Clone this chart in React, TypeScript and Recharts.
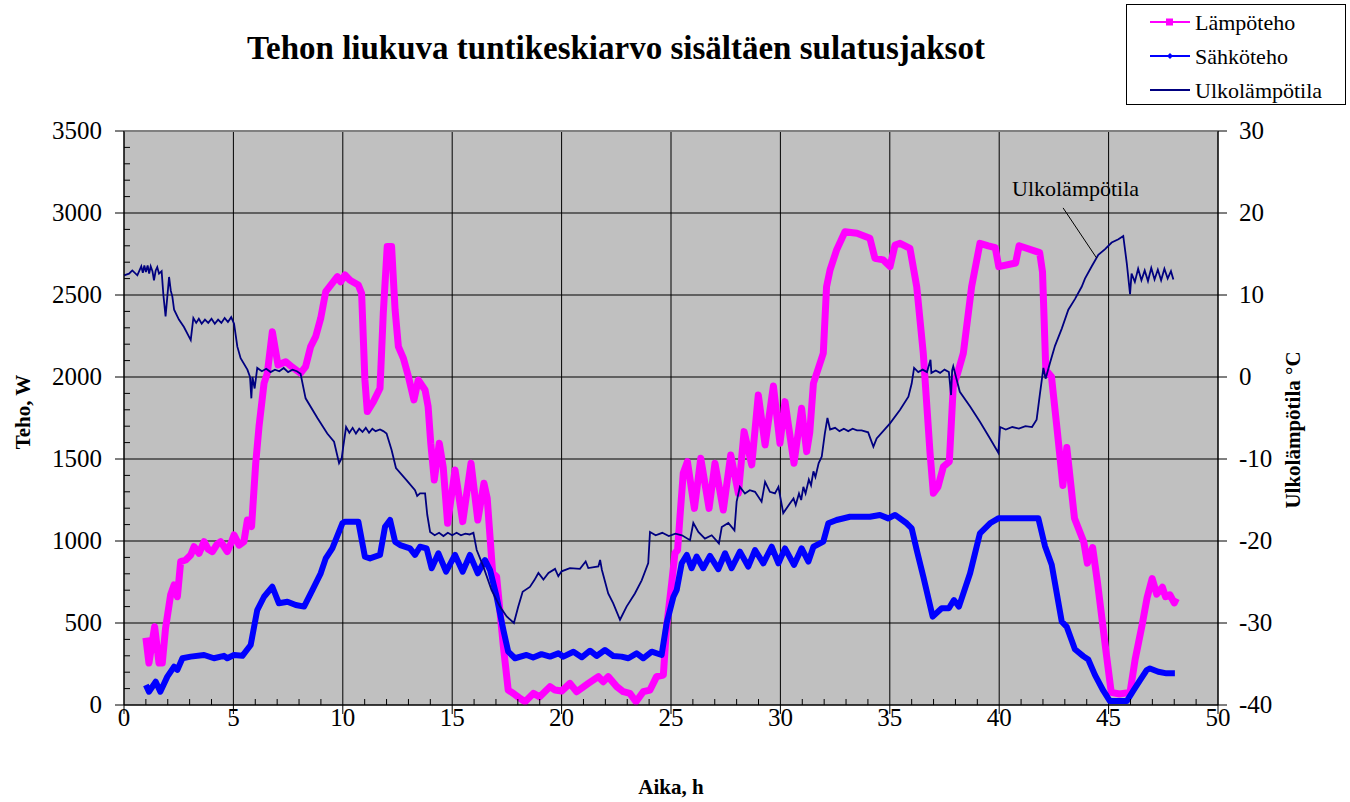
import { LineChart, Line, XAxis, YAxis, CartesianGrid, ReferenceLine } from "recharts";

// Lämpöteho, W  [aika h, teho W]
const heatPoints = [
  [1.0, 410], [1.14, 256], [1.4, 477], [1.6, 256], [1.75, 256], [1.9, 470], [2.13, 671], [2.29, 732],
  [2.44, 660], [2.59, 874], [2.82, 884], [3.05, 915], [3.2, 965], [3.43, 925], [3.66, 996], [3.85, 950],
  [4.04, 935], [4.25, 980], [4.42, 996], [4.6, 960], [4.72, 935], [4.9, 990], [5.03, 1037], [5.26, 975],
  [5.48, 996], [5.64, 1128], [5.83, 1088], [6.02, 1474], [6.17, 1697], [6.4, 1962], [6.55, 2023], [6.78, 2276],
  [7.04, 2073], [7.39, 2093], [7.69, 2060], [8.07, 2023], [8.3, 2063], [8.53, 2185], [8.76, 2246], [8.99, 2358],
  [9.22, 2520], [9.45, 2560], [9.75, 2612], [9.9, 2580], [10.1, 2622], [10.33, 2590], [10.71, 2561], [10.86, 2510],
  [11.01, 1982], [11.12, 1789], [11.4, 1850], [11.7, 1931], [11.85, 2389], [12.03, 2795], [12.23, 2795], [12.39, 2409],
  [12.54, 2185], [12.77, 2114], [13.0, 2002], [13.25, 1860], [13.45, 1982], [13.76, 1921], [13.9, 1819], [14.02, 1596],
  [14.18, 1372], [14.41, 1596], [14.59, 1450], [14.79, 1108], [15.13, 1433], [15.48, 1118], [15.86, 1474], [16.17, 1128],
  [16.45, 1352], [16.6, 1260], [16.85, 803], [17.03, 783], [17.34, 356], [17.56, 91], [17.8, 70], [18.05, 45],
  [18.33, 20], [18.71, 71], [19.0, 50], [19.47, 112], [19.7, 91], [20.0, 85], [20.38, 132], [20.69, 81],
  [21.22, 132], [21.68, 173], [21.9, 142], [22.13, 173], [22.52, 112], [22.82, 81], [23.12, 71], [23.4, 20],
  [23.73, 81], [24.04, 91], [24.34, 173], [24.65, 183], [24.8, 478], [25.03, 742], [25.18, 925], [25.3, 945],
  [25.41, 1148], [25.56, 1413], [25.75, 1484], [26.07, 1199], [26.36, 1504], [26.74, 1199], [27.01, 1474], [27.39, 1189],
  [27.73, 1525], [28.08, 1291], [28.34, 1667], [28.69, 1464], [28.99, 1890], [29.3, 1586], [29.68, 1945], [29.98, 1596],
  [30.21, 1850], [30.62, 1474], [30.97, 1809], [31.2, 1545], [31.34, 1660], [31.51, 1962], [31.96, 2145], [32.11, 2551],
  [32.27, 2653], [32.57, 2775], [32.95, 2886], [33.5, 2876], [34.09, 2846], [34.32, 2724], [34.7, 2714], [35.01, 2673],
  [35.24, 2805], [35.47, 2815], [35.92, 2785], [36.23, 2551], [36.53, 2145], [36.84, 1535], [36.99, 1291], [37.2, 1330],
  [37.45, 1453], [37.72, 1484], [37.9, 1941], [38.1, 2023], [38.36, 2145], [38.74, 2551], [39.12, 2815], [39.5, 2800],
  [39.82, 2789], [39.98, 2673], [40.75, 2695], [40.91, 2800], [41.85, 2758], [41.98, 2640], [42.13, 2043], [42.39, 2001],
  [42.66, 1664], [42.91, 1339], [43.09, 1570], [43.44, 1139], [43.87, 992], [44.03, 865], [44.27, 960], [44.5, 739],
  [44.89, 318], [45.12, 77], [45.5, 67], [45.98, 77], [46.21, 276], [46.53, 487], [46.76, 655], [46.99, 771],
  [47.2, 676], [47.46, 718], [47.6, 660], [47.8, 672], [48.0, 623], [48.1, 650],
];

// Sähköteho, W
const elecPoints = [
  [1.0, 122], [1.14, 81], [1.45, 142], [1.66, 81], [1.98, 173], [2.29, 234], [2.44, 214], [2.67, 285],
  [3.05, 295], [3.66, 305], [4.11, 285], [4.57, 300], [4.72, 285], [5.03, 305], [5.41, 300], [5.79, 366],
  [6.09, 579], [6.4, 660], [6.78, 721], [7.08, 620], [7.47, 630], [7.85, 610], [8.23, 600], [8.61, 701],
  [8.99, 803], [9.22, 894], [9.52, 955], [9.98, 1108], [10.1, 1118], [10.71, 1118], [11.01, 904], [11.24, 894],
  [11.7, 915], [11.93, 1087], [12.16, 1128], [12.39, 996], [12.62, 975], [13.07, 955], [13.3, 915], [13.53, 965],
  [13.83, 955], [14.06, 834], [14.37, 925], [14.72, 813], [15.13, 915], [15.48, 813], [15.81, 915], [16.17, 803],
  [16.5, 884], [16.73, 823], [17.03, 660], [17.34, 457], [17.56, 325], [17.87, 285], [18.4, 305], [18.7, 290],
  [19.08, 310], [19.47, 295], [19.85, 315], [20.08, 295], [20.54, 325], [20.92, 291], [21.3, 331], [21.6, 299],
  [21.98, 335], [22.36, 299], [22.74, 295], [23.05, 285], [23.43, 315], [23.73, 285], [24.12, 325], [24.57, 305],
  [24.8, 498], [25.11, 660], [25.26, 701], [25.49, 864], [25.72, 915], [25.94, 834], [26.17, 905], [26.47, 834],
  [26.78, 909], [27.16, 828], [27.47, 925], [27.77, 834], [28.15, 935], [28.53, 844], [28.84, 945], [29.22, 864],
  [29.6, 965], [29.91, 864], [30.21, 955], [30.62, 854], [30.97, 955], [31.28, 874], [31.51, 965], [31.96, 996],
  [32.19, 1108], [32.57, 1128], [33.18, 1148], [34.09, 1148], [34.55, 1159], [34.93, 1138], [35.24, 1159], [35.77, 1108],
  [36.0, 1077], [36.23, 945], [36.53, 783], [36.96, 539], [37.37, 590], [37.7, 590], [37.93, 640], [38.16, 600],
  [38.67, 803], [39.12, 1047], [39.58, 1108], [39.96, 1138], [40.87, 1138], [41.79, 1138], [42.09, 970], [42.4, 855],
  [42.86, 508], [43.09, 476], [43.46, 340], [43.84, 298], [44.07, 277], [44.38, 182], [44.76, 87], [45.06, 24],
  [45.83, 24], [46.13, 87], [46.44, 151], [46.74, 213], [46.89, 223], [47.27, 203], [47.65, 193], [48.03, 193],
];

// Ulkolämpötila, °C
const tempPoints = [
  [0.0, 12.4], [0.23, 12.6], [0.38, 13.0], [0.61, 12.4], [0.79, 13.5], [0.86, 12.7], [0.93, 13.6], [1.0, 12.8],
  [1.08, 13.6], [1.15, 12.6], [1.22, 13.5], [1.3, 12.9], [1.37, 11.8], [1.45, 13.0], [1.52, 13.4], [1.6, 12.6],
  [1.72, 12.9], [1.8, 10.0], [1.9, 7.4], [2.06, 12.2], [2.14, 10.5], [2.21, 9.8], [2.29, 8.2], [2.51, 7.0],
  [2.74, 6.1], [3.05, 4.5], [3.17, 7.2], [3.3, 6.6], [3.42, 7.1], [3.55, 6.5], [3.7, 7.0], [3.85, 6.6],
  [4.0, 7.1], [4.15, 6.5], [4.3, 7.0], [4.45, 6.6], [4.6, 7.2], [4.75, 6.7], [4.9, 7.3], [5.03, 6.5],
  [5.18, 3.7], [5.33, 2.3], [5.64, 0.9], [5.76, 0.0], [5.82, -2.6], [5.87, 0.0], [5.97, -1.4], [6.09, 1.1],
  [6.3, 0.7], [6.5, 1.0], [6.7, 0.6], [6.9, 0.9], [7.1, 0.7], [7.3, 1.1], [7.5, 0.6], [7.7, 0.9],
  [7.9, 0.7], [8.07, 0.4], [8.3, -2.6], [8.84, -5.0], [9.29, -6.9], [9.6, -7.9], [9.83, -10.5], [9.95, -9.9],
  [10.02, -8.5], [10.15, -6.1], [10.3, -6.8], [10.45, -6.2], [10.6, -6.9], [10.75, -6.3], [10.9, -6.7], [11.05, -6.2],
  [11.2, -6.8], [11.35, -6.3], [11.5, -6.6], [11.7, -6.4], [11.85, -6.6], [12.0, -6.9], [12.23, -8.9], [12.43, -11.1],
  [12.92, -12.6], [13.3, -13.8], [13.4, -14.5], [13.53, -14.2], [13.76, -14.2], [13.86, -16.8], [13.99, -18.9], [14.2, -19.3],
  [14.4, -19.0], [14.6, -19.4], [14.8, -19.0], [15.0, -19.3], [15.2, -19.0], [15.4, -19.3], [15.6, -19.1], [15.8, -19.2],
  [15.97, -19.0], [16.12, -21.1], [16.42, -23.1], [16.8, -26.0], [17.18, -28.0], [17.49, -29.2], [17.82, -30.0], [18.02, -28.0],
  [18.22, -26.2], [18.55, -25.6], [18.75, -24.8], [18.94, -23.9], [19.17, -24.7], [19.4, -23.9], [19.7, -23.4], [19.85, -24.3],
  [20.0, -23.7], [20.38, -23.3], [20.84, -23.4], [21.1, -22.5], [21.22, -23.3], [21.68, -23.1], [21.76, -22.3], [21.84, -23.5],
  [22.13, -26.4], [22.36, -27.6], [22.67, -29.6], [22.97, -28.0], [23.35, -26.4], [23.66, -24.8], [23.96, -22.7], [24.04, -18.9],
  [24.3, -19.3], [24.6, -19.0], [24.9, -19.4], [25.2, -19.1], [25.5, -19.3], [25.87, -19.9], [26.02, -17.8], [26.25, -18.9],
  [26.55, -19.7], [26.86, -19.3], [27.19, -20.3], [27.32, -18.3], [27.62, -17.8], [27.9, -18.7], [28.0, -15.2], [28.15, -13.4],
  [28.38, -14.2], [28.6, -13.8], [28.84, -14.0], [29.14, -15.2], [29.3, -12.8], [29.52, -14.0], [29.75, -14.2], [29.91, -13.4],
  [30.13, -16.6], [30.44, -15.4], [30.6, -14.8], [30.7, -15.6], [30.85, -14.2], [30.95, -15.0], [31.05, -13.4], [31.15, -14.2],
  [31.3, -12.5], [31.4, -13.2], [31.51, -11.5], [31.6, -12.2], [31.75, -10.5], [31.89, -9.7], [32.03, -6.9], [32.15, -5.0],
  [32.27, -6.4], [32.5, -6.2], [32.7, -6.6], [32.9, -6.3], [33.1, -6.6], [33.3, -6.3], [33.5, -6.5], [33.71, -6.5],
  [34.01, -6.75], [34.25, -8.5], [34.4, -7.5], [35.01, -5.65], [35.47, -4.0], [35.85, -2.4], [36.0, -0.8], [36.11, 1.1],
  [36.3, 0.6], [36.5, 0.9], [36.7, 0.6], [36.86, 2.1], [36.9, 0.5], [37.1, 0.8], [37.3, 0.5], [37.5, 0.9],
  [37.7, 0.6], [37.8, -2.2], [37.85, 0.8], [37.9, 1.3], [38.2, -1.8], [38.67, -3.6], [39.12, -5.45], [39.58, -7.5],
  [39.96, -9.24], [40.04, -6.1], [40.3, -6.4], [40.6, -6.1], [40.9, -6.3], [41.2, -6.0], [41.5, -6.1], [41.71, -5.2],
  [41.86, -2.1], [42.02, 1.1], [42.12, -0.2], [42.32, 1.7], [42.55, 3.8], [42.86, 5.9], [43.16, 8.2], [43.46, 9.5],
  [43.77, 11.0], [43.92, 12.0], [44.23, 13.5], [44.53, 14.9], [44.84, 15.6], [45.14, 16.4], [45.45, 16.8], [45.67, 17.2],
  [45.83, 13.9], [45.98, 10.1], [46.05, 12.6], [46.2, 11.6], [46.35, 13.2], [46.5, 11.8], [46.65, 13.0], [46.8, 11.7],
  [46.95, 13.3], [47.1, 11.9], [47.25, 13.1], [47.4, 11.8], [47.55, 13.2], [47.7, 12.0], [47.85, 12.9], [47.96, 11.9],
];

const gridHours = [0, 5, 10, 15, 20, 25, 30, 35, 40, 45, 50];
const hourTicks = Array.from({ length: 51 }, (_, i) => i);
const wattTicks = Array.from({ length: 36 }, (_, i) => i * 100);
const tempTicks = [-40, -30, -20, -10, 0, 10, 20, 30];

const data = [
  ...heatPoints.map(([t, v]) => ({ t, heat: v })),
  ...elecPoints.map(([t, v]) => ({ t, elec: v })),
  ...tempPoints.map(([t, v]) => ({ t, temp: v })),
].sort((a, b) => a.t - b.t);

const serif = '"Liberation Serif", "Times New Roman", serif';

const BottomTick = ({ x, y, payload }: any) => {
  const v = payload.value;
  if (v % 5 !== 0) return <line x1={x} x2={x} y1={y} y2={y - 6} stroke="#000" />;
  return (
    <g>
      <line x1={x} x2={x} y1={y} y2={y + 9} stroke="#000" />
      <text x={x} y={y + 21} textAnchor="middle" fontSize={25} fontFamily={serif} fill="#000">
        {v}
      </text>
    </g>
  );
};

const LeftTick = ({ x, y, payload }: any) => {
  const v = payload.value;
  if (v % 500 !== 0) return <line x1={x} x2={x + 6} y1={y} y2={y} stroke="#000" />;
  return (
    <g>
      <line x1={x - 9} x2={x} y1={y} y2={y} stroke="#000" />
      <text x={x - 22} y={y + 8} textAnchor="end" fontSize={25} fontFamily={serif} fill="#000">
        {v}
      </text>
    </g>
  );
};

const RightTick = ({ x, y, payload }: any) => (
  <g>
    <line x1={x} x2={x + 9} y1={y} y2={y} stroke="#000" />
    <text x={x + 21} y={y + 8} textAnchor="start" fontSize={25} fontFamily={serif} fill="#000">
      {payload.value}
    </text>
  </g>
);

const legendRows = [
  { label: "Lämpöteho", color: "#FF00FF", marker: "square" },
  { label: "Sähköteho", color: "#0000FF", marker: "diamond" },
  { label: "Ulkolämpötila", color: "#000080", marker: "none" },
];

export default function App() {
  return (
    <div style={{ position: "absolute", left: 0, top: 0, width: 1350, height: 802, background: "#fff" }}>
      <LineChart width={1350} height={802} data={data} margin={{ top: 131, right: 0, bottom: 0, left: 0 }}>
        <CartesianGrid xAxisId="grid" yAxisId="right" stroke="#000" fill="#C0C0C0" fillOpacity={1} />
        <XAxis xAxisId="grid" type="number" dataKey="t" domain={[0, 50]} ticks={gridHours} hide />
        <XAxis
          type="number"
          dataKey="t"
          domain={[0, 50]}
          ticks={hourTicks}
          interval={0}
          height={97}
          tickSize={0}
          tickMargin={0}
          tickLine={false}
          axisLine={{ stroke: "#000" }}
          tick={BottomTick}
        />
        <YAxis
          yAxisId="left"
          domain={[0, 3500]}
          ticks={wattTicks}
          interval={0}
          width={124}
          tickSize={0}
          tickMargin={0}
          tickLine={false}
          axisLine={{ stroke: "#000" }}
          tick={LeftTick}
        />
        <YAxis
          yAxisId="right"
          orientation="right"
          domain={[-40, 30]}
          ticks={tempTicks}
          interval={0}
          width={132}
          tickSize={0}
          tickMargin={0}
          tickLine={false}
          axisLine={{ stroke: "#000" }}
          tick={RightTick}
        />
        <ReferenceLine yAxisId="left" y={3500} stroke="#808080" strokeWidth={2} />
        <Line
          yAxisId="left"
          type="linear"
          dataKey="heat"
          stroke="#FF00FF"
          strokeWidth={7}
          strokeLinejoin="round"
          dot={false}
          activeDot={false}
          connectNulls
          isAnimationActive={false}
        />
        <Line
          yAxisId="left"
          type="linear"
          dataKey="elec"
          stroke="#0000FF"
          strokeWidth={6}
          strokeLinejoin="round"
          dot={false}
          activeDot={false}
          connectNulls
          isAnimationActive={false}
        />
        <Line
          yAxisId="right"
          type="linear"
          dataKey="temp"
          stroke="#000080"
          strokeWidth={1.8}
          dot={false}
          activeDot={false}
          connectNulls
          isAnimationActive={false}
        />
        <ReferenceLine
          yAxisId="left"
          segment={[{ x: 42.92, y: 3031 }, { x: 44.45, y: 2726 }]}
          stroke="#000"
          strokeWidth={1}
          ifOverflow="visible"
        />
      </LineChart>

      <svg
        width={1350}
        height={802}
        style={{ position: "absolute", left: 0, top: 0, pointerEvents: "none" }}
      >
        <text x={616} y={59} textAnchor="middle" fontSize={33} fontWeight="bold" fontFamily={serif}>
          Tehon liukuva tuntikeskiarvo sisältäen sulatusjaksot
        </text>
        <text x={671} y={794} textAnchor="middle" fontSize={21} fontWeight="bold" fontFamily={serif}>
          Aika, h
        </text>
        <text
          x={0}
          y={0}
          textAnchor="middle"
          fontSize={21}
          fontWeight="bold"
          fontFamily={serif}
          transform="translate(30 412) rotate(-90)"
        >
          Teho, W
        </text>
        <text
          x={0}
          y={0}
          textAnchor="middle"
          fontSize={21}
          fontWeight="bold"
          fontFamily={serif}
          transform="translate(1300 430) rotate(-90)"
        >
          Ulkolämpötila °C
        </text>
        <text x={1012} y={196} fontSize={22} fontFamily={serif}>
          Ulkolämpötila
        </text>

        <rect x={1126.5} y={4.5} width={219} height={100} fill="#fff" stroke="#000" />
        {legendRows.map((r, i) => {
          const cy = 22 + i * 34;
          return (
            <g key={r.label}>
              <line x1={1150} x2={1190} y1={cy} y2={cy} stroke={r.color} strokeWidth={2} />
              {r.marker === "square" && <rect x={1166} y={cy - 3.5} width={7} height={7} fill={r.color} />}
              {r.marker === "diamond" && (
                <path d={`M1170 ${cy - 3} L1173 ${cy} L1170 ${cy + 3} L1167 ${cy} Z`} fill={r.color} />
              )}
              <text x={1195} y={cy + 8} fontSize={22} fontFamily={serif}>
                {r.label}
              </text>
            </g>
          );
        })}
      </svg>
    </div>
  );
}
